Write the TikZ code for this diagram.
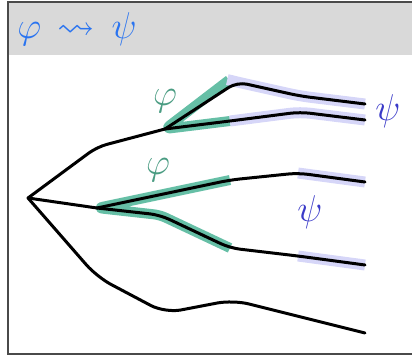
\documentclass[tikz,border=0pt]{standalone}
\usepackage{amssymb}
\usepackage{tikz}
\pgfdeclarelayer{background}
\pgfdeclarelayer{hilitelayer}
\pgfdeclarelayer{edgelayer}
\pgfdeclarelayer{nodelayer}
\pgfsetlayers{background,hilitelayer,edgelayer,nodelayer,main}
\definecolor{hdrgray}{HTML}{D9D9D9}
\definecolor{framegray}{HTML}{4A4A4A}
\definecolor{hdrblue}{HTML}{2A74F0}
\definecolor{lblgreen}{HTML}{4A9C82}
\definecolor{lblblue}{HTML}{3A3AC8}
\definecolor{hlgreen}{HTML}{66BFA6}
\definecolor{hlviolet}{HTML}{D6D6F8}
\tikzstyle{none}=[inner sep=0pt]
\tikzstyle{label}=[inner sep=0pt,font=\Huge,scale=1.5]
\tikzstyle{strand}=[draw=black,line width=3pt,line cap=round,rounded corners=10pt]
\tikzstyle{greenhl}=[draw=hlgreen,line width=10pt,line join=round,rounded corners=6pt]
\tikzstyle{violethl}=[draw=hlviolet,line width=11pt,rounded corners=10pt]

\begin{document}
\begin{tikzpicture}[x=1pt,y=-1pt]
	\useasboundingbox (0,0) rectangle (412,356);
	\begin{pgfonlayer}{background}
		\fill [hdrgray] (9,3) rectangle (412,55);
		\draw [framegray,line width=1.3pt] (412,2) -- (8,2) -- (8,354) -- (412,354);
	\end{pgfonlayer}
	\begin{pgfonlayer}{nodelayer}
		\node [style=label,text=hdrblue,anchor=base west] (0) at (17,38) {$\varphi\,\leadsto\,\psi$};
		\node [style=none] (1) at (28, 198) {};
		\node [style=none] (2) at (97, 147) {};
		\node [style=none] (3) at (165, 129) {};
		\node [style=none] (4) at (237, 82) {};
		\node [style=none] (5) at (300, 96) {};
		\node [style=none] (6) at (365, 104) {};
		\node [style=none] (7) at (230, 121) {};
		\node [style=none] (8) at (300, 112) {};
		\node [style=none] (9) at (365, 120) {};
		\node [style=none] (10) at (97, 208) {};
		\node [style=none] (11) at (230, 180) {};
		\node [style=none] (12) at (298, 173) {};
		\node [style=none] (13) at (365, 182) {};
		\node [style=none] (14) at (160, 215) {};
		\node [style=none] (15) at (230, 248) {};
		\node [style=none] (16) at (298, 256) {};
		\node [style=none] (17) at (365, 265) {};
		\node [style=none] (18) at (97, 277) {};
		\node [style=none] (19) at (165, 313) {};
		\node [style=none] (20) at (233, 300) {};
		\node [style=none] (21) at (365, 333) {};
		\node [style=none] (22) at (229, 80) {};
		\node [style=label,text=lblgreen] (23) at (165, 101) {$\varphi$};
		\node [style=label,text=lblblue] (24) at (388, 111) {$\psi$};
		\node [style=label,text=lblgreen] (25) at (158, 170) {$\varphi$};
		\node [style=label,text=lblblue] (26) at (310, 212) {$\psi$};
	\end{pgfonlayer}
	\begin{pgfonlayer}{hilitelayer}
		\draw [style=greenhl] (22.center) -- (3.center) -- (7.center);
		\draw [style=greenhl] (11.center) -- (10.center) -- (14.center) -- (15.center);
		\draw [style=violethl] (22.center) -- (4.center) -- (5.center) -- (6.center);
		\draw [style=violethl] (7.center) -- (8.center) -- (9.center);
		\draw [style=violethl] (12.center) -- (13.center);
		\draw [style=violethl] (16.center) -- (17.center);
	\end{pgfonlayer}
	\begin{pgfonlayer}{edgelayer}
		\draw [style=strand] (1.center) -- (2.center) -- (3.center);
		\draw [style=strand] (3.center) -- (4.center) -- (5.center) -- (6.center);
		\draw [style=strand] (3.center) -- (7.center) -- (8.center) -- (9.center);
		\draw [style=strand] (1.center) -- (10.center);
		\draw [style=strand] (10.center) -- (11.center) -- (12.center) -- (13.center);
		\draw [style=strand] (10.center) -- (14.center) -- (15.center) -- (16.center) -- (17.center);
		\draw [style=strand,rounded corners=16pt] (1.center) -- (18.center) -- (19.center) -- (20.center) -- (21.center);
	\end{pgfonlayer}
\end{tikzpicture}
\end{document}
